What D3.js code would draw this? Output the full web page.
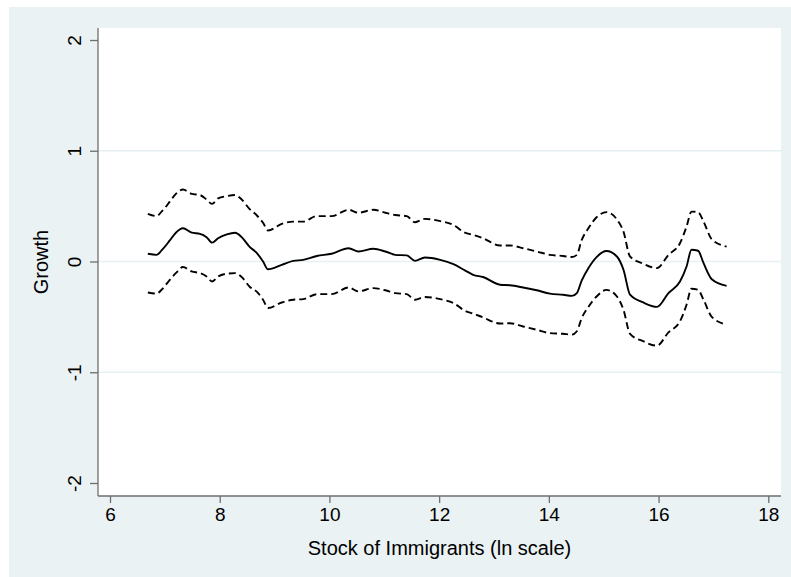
<!DOCTYPE html>
<html>
<head>
<meta charset="utf-8">
<script src="https://cdn.jsdelivr.net/npm/d3@7"></script>
<style>
  body { margin: 0; background: #fff; }
  text { font-family: "Liberation Sans", Arial, sans-serif; fill: #000; }
</style>
</head>
<body>
<div class="chart"></div>
<script>
// stock of immigrants (ln scale)
let stock = [6.69, 6.85, 6.94, 7.09, 7.2, 7.33, 7.49, 7.64, 7.76, 7.86, 7.97, 8.13, 8.28, 8.4, 8.55, 8.67,
  8.79, 8.88, 9.13, 9.34, 9.52, 9.77, 10.04, 10.35, 10.53, 10.8, 11.02, 11.2, 11.41, 11.56, 11.74, 12.02,
  12.26, 12.47, 12.62, 12.8, 13.11, 13.29, 13.53, 13.78, 14.02, 14.26, 14.42, 14.51, 14.6, 14.72, 14.87,
  15.05, 15.24, 15.36, 15.48, 15.72, 15.97, 16.18, 16.39, 16.51, 16.6, 16.72, 16.82, 16.97, 17.24];

let growth = [0.07, 0.06, 0.10, 0.19, 0.26, 0.30, 0.26, 0.25, 0.22, 0.17, 0.21, 0.245, 0.26, 0.22, 0.13, 0.08,
  0.0, -0.07, -0.03, 0.005, 0.015, 0.05, 0.07, 0.12, 0.09, 0.115, 0.09, 0.06, 0.055, 0.006, 0.036, 0.015,
  -0.024, -0.08, -0.12, -0.14, -0.21, -0.215, -0.235, -0.26, -0.29, -0.30, -0.31, -0.285, -0.17, -0.06, 0.04,
  0.095, 0.045, -0.075, -0.30, -0.37, -0.41, -0.285, -0.18, -0.045, 0.106, 0.097, -0.015, -0.16, -0.22];

let upper = [0.43, 0.41, 0.45, 0.54, 0.61, 0.65, 0.61, 0.60, 0.56, 0.52, 0.57, 0.59, 0.60, 0.56, 0.47, 0.42,
  0.35, 0.28, 0.34, 0.36, 0.36, 0.41, 0.41, 0.467, 0.44, 0.467, 0.44, 0.42, 0.41, 0.355, 0.385, 0.365,
  0.33, 0.26, 0.24, 0.21, 0.145, 0.145, 0.12, 0.09, 0.06, 0.05, 0.04, 0.06, 0.196, 0.30, 0.40,
  0.446, 0.38, 0.27, 0.045, -0.02, -0.06, 0.06, 0.165, 0.316, 0.45, 0.446, 0.36, 0.20, 0.135];

let lower = [-0.28, -0.29, -0.255, -0.165, -0.105, -0.05, -0.09, -0.105, -0.135, -0.18, -0.135, -0.11, -0.105, -0.14, -0.23, -0.27,
  -0.345, -0.42, -0.37, -0.345, -0.34, -0.295, -0.295, -0.235, -0.27, -0.24, -0.26, -0.285, -0.295, -0.345, -0.32, -0.34,
  -0.375, -0.445, -0.47, -0.505, -0.56, -0.557, -0.587, -0.617, -0.647, -0.653, -0.66, -0.63, -0.51, -0.41, -0.316,
  -0.256, -0.316, -0.436, -0.653, -0.72, -0.76, -0.64, -0.54, -0.39, -0.246, -0.256, -0.346, -0.50, -0.57];

let xTicks = [6, 8, 10, 12, 14, 16, 18];
let yTicks = [-2, -1, 0, 1, 2];

let width = 791, height = 577;
let plot = { left: 98, right: 781, top: 28, bottom: 496 };

let svg = d3.select(".chart")
  .append("svg")
  .attr("width", width)
  .attr("height", height);

// graph region and plot region
svg.append("rect")
  .attr("x", 9).attr("y", 7)
  .attr("width", width - 9).attr("height", height - 7)
  .attr("fill", "#eaf2f3");

svg.append("rect")
  .attr("x", plot.left).attr("y", plot.top)
  .attr("width", plot.right - plot.left).attr("height", plot.bottom - plot.top)
  .attr("fill", "#fff");

let x = d3.scaleLinear()
  .domain([6, 18])
  .range([110, 768.3]);

let y = d3.scaleLinear()
  .domain([-2, 2])
  .range([483, 40]);

// grid lines on the inner ticks only
svg.append("g")
  .selectAll("line")
  .data(yTicks.filter(t => t > -2 && t < 2))
  .join("line")
  .attr("x1", plot.left).attr("x2", plot.right)
  .attr("y1", d => y(d)).attr("y2", d => y(d))
  .attr("stroke", "#e6eff1")
  .attr("stroke-width", 1.5);

let xAxis = g => g
  .attr("transform", `translate(0,${plot.bottom})`)
  .call(d3.axisBottom(x).tickValues(xTicks).tickSize(7).tickSizeOuter(0).tickPadding(5))
  .call(g => g.select(".domain").attr("d", `M${plot.left},0H${plot.right}`))
  .call(g => g.selectAll("line, .domain").attr("stroke", "#6e6e6e").attr("stroke-width", 1.3))
  .call(g => g.selectAll("text")
    .attr("font-size", 19)
    .attr("font-family", "Liberation Sans, Arial, sans-serif")
    .attr("fill", "#000"));

let yAxis = g => g
  .attr("transform", `translate(${plot.left},0)`)
  .call(d3.axisLeft(y).tickValues(yTicks).tickSize(8).tickSizeOuter(0).tickFormat(d3.format("d")))
  .call(g => g.select(".domain").attr("d", `M0,${plot.top}V${plot.bottom}`))
  .call(g => g.selectAll("line, .domain").attr("stroke", "#6e6e6e").attr("stroke-width", 1.3))
  .call(g => g.selectAll("text")
    .attr("x", null).attr("dy", null)
    .attr("transform", "translate(-17,0) rotate(-90)")
    .attr("text-anchor", "middle")
    .attr("font-size", 19)
    .attr("font-family", "Liberation Sans, Arial, sans-serif")
    .attr("fill", "#000"));

svg.append("g").call(xAxis);
svg.append("g").call(yAxis);

// minus sign in Stata labels is a plain hyphen
svg.selectAll(".tick text").text(function () { return this.textContent.replace("\u2212", "-"); });

svg.append("text")
  .attr("x", (plot.left + plot.right) / 2)
  .attr("y", 555)
  .attr("text-anchor", "middle")
  .attr("font-size", 20)
  .text("Stock of Immigrants (ln scale)");

svg.append("text")
  .attr("transform", `translate(48,${(plot.top + plot.bottom) / 2}) rotate(-90)`)
  .attr("text-anchor", "middle")
  .attr("font-size", 20)
  .text("Growth");

let line = values => d3.line()
  .x((d, i) => x(stock[i]))
  .y(d => y(d))
  .curve(d3.curveMonotoneX)(values);

let series = [
  { values: upper, dash: "7,4" },
  { values: growth, dash: null },
  { values: lower, dash: "7,4" }
];

svg.append("g")
  .attr("fill", "none")
  .attr("stroke", "#000")
  .attr("stroke-width", 1.9)
  .attr("stroke-linejoin", "round")
  .selectAll("path")
  .data(series)
  .join("path")
  .attr("stroke-dasharray", d => d.dash)
  .attr("d", d => line(d.values));
</script>
</body>
</html>
